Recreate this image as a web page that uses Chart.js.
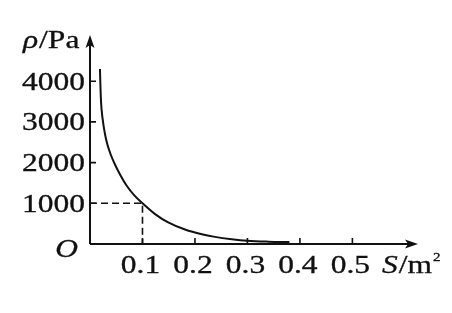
<!DOCTYPE html>
<html>
<head>
<meta charset="utf-8">
<script src="https://cdn.jsdelivr.net/npm/chart.js@4.4.1/dist/chart.umd.min.js"></script>
<style>
  html, body { margin: 0; padding: 0; background: #fff; }
</style>
</head>
<body>
<canvas id="pressureChart" width="452" height="313"></canvas>
<script>
// values
var areaS = [0.019, 0.0195, 0.021, 0.024, 0.028, 0.033, 0.040, 0.048, 0.058, 0.070, 0.084, 0.100, 0.124, 0.149, 0.181, 0.213, 0.238, 0.270, 0.300, 0.340, 0.380];
var pressure = [4300, 4050, 3500, 3080, 2740, 2450, 2180, 1940, 1690, 1430, 1200, 1000, 735, 530, 355, 238, 175, 118, 80, 58, 48];
var xTicks = [0.1, 0.2, 0.3, 0.4, 0.5];
var yTicks = [1000, 2000, 3000, 4000];
var markS = 0.1;
var markP = 1000;

var SX = 1.26; // the printed digits are wide
var INK = '#111';

function stretchText(ctx, s, x, y, align, font) {
  ctx.save();
  ctx.font = font;
  var w = ctx.measureText(s).width * SX;
  var left = align === 'right' ? x - w : (align === 'center' ? x - w / 2 : x);
  ctx.translate(left, y);
  ctx.scale(SX, 1);
  ctx.textAlign = 'left';
  ctx.textBaseline = 'alphabetic';
  ctx.fillStyle = INK;
  ctx.strokeStyle = INK;
  ctx.lineWidth = 0.3;
  ctx.fillText(s, 0, 0);
  ctx.strokeText(s, 0, 0);
  ctx.restore();
  return w;
}

var axesPlugin = {
  id: 'axesPlugin',
  afterDraw: function(chart) {
    var ctx = chart.ctx;
    var xs = chart.scales.x, ys = chart.scales.y;
    var x0 = xs.getPixelForValue(0), y0 = ys.getPixelForValue(0);
    var xEnd = xs.right, yEnd = ys.top;
    ctx.save();
    ctx.strokeStyle = INK;
    ctx.fillStyle = INK;
    ctx.lineWidth = 2;
    // axes
    ctx.beginPath();
    ctx.moveTo(x0, y0); ctx.lineTo(xEnd - 8, y0);
    ctx.moveTo(x0, y0); ctx.lineTo(x0, yEnd + 8);
    ctx.stroke();
    // arrow heads
    ctx.beginPath();
    ctx.moveTo(xEnd, y0); ctx.lineTo(xEnd - 13, y0 - 4.5); ctx.lineTo(xEnd - 10, y0); ctx.lineTo(xEnd - 13, y0 + 4.5);
    ctx.closePath(); ctx.fill();
    ctx.beginPath();
    ctx.moveTo(x0, yEnd); ctx.lineTo(x0 - 4.5, yEnd + 13); ctx.lineTo(x0, yEnd + 10); ctx.lineTo(x0 + 4.5, yEnd + 13);
    ctx.closePath(); ctx.fill();
    // tick marks (inward)
    ctx.lineWidth = 1.6;
    ctx.beginPath();
    xTicks.forEach(function(v) {
      var px = xs.getPixelForValue(v);
      ctx.moveTo(px, y0); ctx.lineTo(px, y0 - 6);
    });
    yTicks.forEach(function(v) {
      var py = ys.getPixelForValue(v);
      ctx.moveTo(x0, py); ctx.lineTo(x0 + 6, py);
    });
    ctx.stroke();
    ctx.restore();

    var font = '25px "Liberation Serif"';
    yTicks.forEach(function(v) {
      stretchText(ctx, String(v), x0 - 5, ys.getPixelForValue(v) + 8.5, 'right', font);
    });
    xTicks.forEach(function(v) {
      stretchText(ctx, v.toFixed(1), xs.getPixelForValue(v) - 2, y0 + 29, 'center', font);
    });
    stretchText(ctx, 'O', x0 - 12, y0 + 13, 'right', 'italic 25px "Liberation Serif"');
    // axis titles
    var w = stretchText(ctx, '\u03C1', 23, 48, 'left', 'italic 25px "Liberation Serif"');
    stretchText(ctx, '/Pa', 23 + w + 1, 48, 'left', font);
    w = stretchText(ctx, 'S', 382, y0 + 29, 'left', 'italic 25px "Liberation Serif"');
    var w2 = stretchText(ctx, '/m', 382 + w + 1, y0 + 29, 'left', font);
    stretchText(ctx, '2', 382 + w + w2 + 2, y0 + 17, 'left', '12px "Liberation Serif"');
  }
};

var curvePoints = areaS.map(function(s, i) { return { x: s, y: pressure[i] }; });
var guidePoints = [{ x: 0, y: markP }, { x: markS, y: markP }, { x: markS, y: 0 }];

new Chart(document.getElementById('pressureChart'), {
  type: 'line',
  data: {
    datasets: [{
      data: curvePoints,
      borderColor: INK,
      borderWidth: 2,
      pointRadius: 0,
      cubicInterpolationMode: 'monotone',
      fill: false
    }, {
      data: guidePoints,
      borderColor: INK,
      borderWidth: 1.6,
      borderDash: [7, 4],
      pointRadius: 0,
      tension: 0,
      fill: false
    }]
  },
  options: {
    responsive: false,
    animation: false,
    layout: { padding: { left: 90, right: 34, top: 35, bottom: 69 } },
    plugins: { legend: { display: false }, tooltip: { enabled: false } },
    scales: {
      x: { type: 'linear', min: 0, max: 0.625, display: false },
      y: { type: 'linear', min: 0, max: 5135, display: false }
    }
  },
  plugins: [axesPlugin]
});
</script>
</body>
</html>
